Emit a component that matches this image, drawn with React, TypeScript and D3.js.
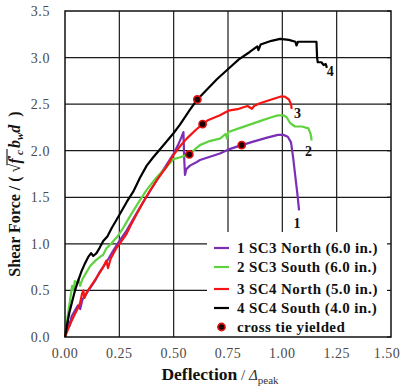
import React, { useEffect, useRef } from "react";
import * as d3 from "d3";

const W = 401;
const H = 390;

const xTicks = [0, 0.25, 0.5, 0.75, 1.0, 1.25, 1.5];
const yTicks = [0, 0.5, 1.0, 1.5, 2.0, 2.5, 3.0, 3.5];

// 1 SC3 North (purple)
const sc3North: [number, number][] = [
  [0, 0], [0.008, 0.08], [0.015, 0.17], [0.022, 0.12], [0.03, 0.22], [0.045, 0.28], [0.06, 0.34],
  [0.07, 0.3], [0.08, 0.4], [0.1, 0.47], [0.12, 0.54], [0.14, 0.61], [0.16, 0.7], [0.18, 0.77],
  [0.2, 0.84], [0.22, 0.92], [0.25, 1.03], [0.28, 1.13], [0.31, 1.25], [0.35, 1.41], [0.4, 1.6],
  [0.445, 1.77], [0.47, 1.86], [0.5, 1.97], [0.52, 2.06], [0.535, 2.14], [0.545, 2.2], [0.548, 1.95],
  [0.552, 1.74], [0.558, 1.8], [0.575, 1.84], [0.6, 1.87], [0.621, 1.9], [0.66, 1.93], [0.713, 1.97],
  [0.76, 2.02], [0.813, 2.06], [0.87, 2.1], [0.93, 2.14], [0.98, 2.17], [1.005, 2.17], [1.025, 2.15],
  [1.04, 2.09], [1.05, 1.92], [1.06, 1.72], [1.07, 1.52], [1.077, 1.36],
];

// 2 SC3 South (green)
const sc3South: [number, number][] = [
  [0, 0], [0.012, 0.22], [0.025, 0.42], [0.033, 0.55], [0.04, 0.5], [0.045, 0.6], [0.055, 0.58],
  [0.062, 0.62], [0.07, 0.55], [0.08, 0.62], [0.095, 0.68], [0.115, 0.76], [0.14, 0.82], [0.161, 0.86],
  [0.175, 0.88], [0.19, 0.95], [0.215, 1.01], [0.245, 1.09], [0.27, 1.18], [0.3, 1.3], [0.34, 1.45],
  [0.376, 1.58], [0.42, 1.71], [0.46, 1.81], [0.5, 1.91], [0.53, 1.93], [0.555, 1.95], [0.572, 1.96],
  [0.6, 2.02], [0.621, 2.06], [0.66, 2.1], [0.713, 2.13], [0.74, 2.18], [0.745, 2.13], [0.752, 2.2],
  [0.8, 2.24], [0.85, 2.28], [0.9, 2.32], [0.95, 2.36], [0.98, 2.38], [1.005, 2.38], [1.02, 2.36],
  [1.035, 2.3], [1.058, 2.26], [1.09, 2.26], [1.12, 2.24], [1.13, 2.18], [1.135, 2.11],
];

// 3 SC4 North (red)
const sc4North: [number, number][] = [
  [0, 0], [0.02, 0.12], [0.04, 0.22], [0.055, 0.29], [0.069, 0.36], [0.078, 0.46], [0.084, 0.5],
  [0.09, 0.42], [0.1, 0.48], [0.12, 0.55], [0.14, 0.62], [0.16, 0.69], [0.176, 0.75], [0.19, 0.82],
  [0.198, 0.74], [0.21, 0.84], [0.238, 0.96], [0.26, 1.03], [0.284, 1.11], [0.3, 1.19], [0.33, 1.32],
  [0.36, 1.45], [0.391, 1.57], [0.43, 1.71], [0.468, 1.83], [0.498, 1.95], [0.53, 2.05], [0.56, 2.13],
  [0.6, 2.22], [0.633, 2.285], [0.66, 2.33], [0.713, 2.38], [0.752, 2.43], [0.8, 2.45], [0.84, 2.48],
  [0.86, 2.45], [0.87, 2.48], [0.897, 2.51], [0.95, 2.55], [0.99, 2.58], [1.012, 2.58], [1.03, 2.55],
  [1.04, 2.5], [1.043, 2.45],
];

// 4 SC4 South (black)
const sc4South: [number, number][] = [
  [0, 0], [0.01, 0.14], [0.02, 0.26], [0.035, 0.4], [0.046, 0.5], [0.06, 0.6], [0.075, 0.7],
  [0.09, 0.78], [0.107, 0.86], [0.12, 0.9], [0.13, 0.87], [0.145, 0.9], [0.16, 0.96], [0.176, 1.03],
  [0.195, 1.08], [0.215, 1.17], [0.25, 1.31], [0.284, 1.45], [0.314, 1.56], [0.345, 1.71], [0.376, 1.84],
  [0.406, 1.93], [0.45, 2.05], [0.5, 2.19], [0.529, 2.28], [0.575, 2.44], [0.609, 2.55], [0.65, 2.65],
  [0.7, 2.77], [0.752, 2.88], [0.8, 2.98], [0.85, 3.06], [0.885, 3.12], [0.89, 3.08], [0.9, 3.14],
  [0.95, 3.18], [0.99, 3.2], [1.03, 3.19], [1.06, 3.17], [1.065, 3.13], [1.072, 3.17], [1.1, 3.17],
  [1.157, 3.17], [1.16, 3.0], [1.163, 2.95], [1.18, 2.95], [1.19, 2.92], [1.2, 2.93], [1.205, 2.89],
];

// cross tie yielded points (one per specimen)
const yieldPoints: [number, number][] = [[0.813, 2.06], [0.572, 1.96], [0.633, 2.285], [0.609, 2.55]];

// where the curve numbers sit (data units)
const curveLabels = ["1", "2", "3", "4"];
const curveLabelAt: [number, number][] = [[1.068, 1.22], [1.12, 1.99], [1.07, 2.4], [1.22, 2.85]];

const legendNames = [
  "1 SC3 North (6.0 in.)",
  "2 SC3 South (6.0 in.)",
  "3 SC4 North (5.0 in.)",
  "4 SC4 South (4.0 in.)",
];

const seriesList = [sc3North, sc3South, sc4North, sc4South];
const colors = ["#7a2fb5", "#5fd23f", "#f41414", "#000000"];

const FONT = "Liberation Serif, Times New Roman, DejaVu Serif, serif";

type Piece = { t: string; size: number; weight?: string; style?: string; dy?: number; fill?: string; key?: string };

// draws a run of text pieces side by side, centred on 0
function richText(parent: any, pieces: Piece[], transform: string) {
  const g = parent.append("g").attr("transform", transform);
  const inner = g.append("g");
  let cursor = 0;
  const spans: Record<string, [number, number]> = {};
  pieces.forEach((p) => {
    const t = inner
      .append("text")
      .attr("x", cursor)
      .attr("y", p.dy || 0)
      .style("font-family", FONT)
      .attr("font-size", p.size)
      .attr("font-weight", p.weight || "bold")
      .attr("font-style", p.style || "normal")
      .attr("fill", p.fill || "#111")
      .attr("xml:space", "preserve")
      .style("white-space", "pre")
      .text(p.t);
    const w = (t.node() as SVGTextElement).getComputedTextLength();
    if (p.key) spans[p.key] = [cursor, cursor + w];
    cursor += w;
  });
  inner.attr("transform", `translate(${-cursor / 2},0)`);
  return { inner, spans };
}

function Chart() {
  const ref = useRef<SVGSVGElement>(null);

  useEffect(() => {
    const svg = d3.select(ref.current);
    svg.selectAll("*").remove();

    const x = d3.scaleLinear().domain([0, 1.5]).range([65, 391]);
    const y = d3.scaleLinear().domain([0, 3.5]).range([337, 11]);

    svg.append("rect").attr("width", W).attr("height", H).attr("fill", "#fff");

    // grille
    const grid = svg.append("g").attr("stroke", "#1a1a1a").attr("stroke-width", 1.2);
    grid.selectAll(".gx").data(xTicks.slice(1, -1)).join("line")
      .attr("x1", (d) => x(d)).attr("x2", (d) => x(d))
      .attr("y1", y(3.5)).attr("y2", y(0));
    grid.selectAll(".gy").data(yTicks.slice(1, -1)).join("line")
      .attr("x1", x(0)).attr("x2", x(1.5))
      .attr("y1", (d) => y(d)).attr("y2", (d) => y(d));

    // courbes
    const line = d3.line<[number, number]>().x((d) => x(d[0])).y((d) => y(d[1]));
    seriesList.forEach((s, i) => {
      svg.append("path")
        .attr("d", line(s))
        .attr("fill", "none")
        .attr("stroke", colors[i])
        .attr("stroke-width", 2.2)
        .attr("stroke-linejoin", "round");
    });

    const dot = (sel: any) =>
      sel.attr("r", 3.6).attr("fill", "#1a0000").attr("stroke", "#e01010").attr("stroke-width", 1.6);

    svg.selectAll(".yield").data(yieldPoints).join("circle")
      .attr("cx", (d) => x(d[0])).attr("cy", (d) => y(d[1]))
      .call(dot);

    svg.selectAll(".clab").data(curveLabelAt).join("text")
      .attr("x", (d) => x(d[0])).attr("y", (d) => y(d[1]))
      .attr("text-anchor", "middle")
      .attr("dominant-baseline", "central")
      .style("font-family", FONT)
      .attr("font-size", 14)
      .attr("font-weight", "bold")
      .attr("fill", "#111")
      .text((d, i) => curveLabels[i]);

    // légende
    const lx = 207;
    const ly = 232;
    svg.append("rect").attr("x", lx).attr("y", ly).attr("width", x(1.5) - lx).attr("height", y(0) - ly).attr("fill", "#fff");
    const rows = [248, 267, 289, 308, 327];
    legendNames.forEach((name, i) => {
      svg.append("line")
        .attr("x1", 214).attr("x2", 229)
        .attr("y1", rows[i]).attr("y2", rows[i])
        .attr("stroke", colors[i]).attr("stroke-width", 2.2);
      svg.append("text")
        .attr("x", 237).attr("y", rows[i] + 5)
        .style("font-family", FONT).attr("font-size", 15).attr("font-weight", "bold")
        .attr("letter-spacing", 0.4)
        .attr("fill", "#111")
        .text(name);
    });
    svg.append("circle").attr("cx", 221.5).attr("cy", rows[4]).call(dot);
    svg.append("text")
      .attr("x", 237).attr("y", rows[4] + 5)
      .style("font-family", FONT).attr("font-size", 15).attr("font-weight", "bold")
      .attr("letter-spacing", 0.4)
      .attr("fill", "#111")
      .text("cross tie yielded");

    // cadre
    svg.append("rect")
      .attr("x", x(0)).attr("y", y(3.5))
      .attr("width", x(1.5) - x(0)).attr("height", y(0) - y(3.5))
      .attr("fill", "none").attr("stroke", "#111").attr("stroke-width", 1.5);
    svg.selectAll(".rt").data(yTicks).join("line")
      .attr("x1", x(1.5) - 4).attr("x2", x(1.5))
      .attr("y1", (d) => y(d)).attr("y2", (d) => y(d))
      .attr("stroke", "#111").attr("stroke-width", 1.2);

    // étiquettes des axes
    svg.selectAll(".xt").data(xTicks).join("text")
      .attr("x", (d) => Math.min(x(d), 387)).attr("y", 358)
      .attr("text-anchor", "middle")
      .style("font-family", FONT).attr("font-size", 14)
      .attr("letter-spacing", 0.5)
      .attr("fill", "#4a4a4a")
      .text((d) => d3.format(".2f")(d));
    svg.selectAll(".yt").data(yTicks).join("text")
      .attr("x", 50).attr("y", (d) => y(d) + 5)
      .attr("text-anchor", "end")
      .style("font-family", FONT).attr("font-size", 14)
      .attr("letter-spacing", 0.6)
      .attr("fill", "#4a4a4a")
      .text((d) => d3.format(".1f")(d));

    // titre x
    richText(svg, [
      { t: "Deflection", size: 17.5 },
      { t: " / ", size: 15, weight: "normal", fill: "#333" },
      { t: "Δ", size: 15, weight: "normal", style: "italic", fill: "#333" },
      { t: "peak", size: 11, weight: "normal", dy: 4, fill: "#333" },
    ], "translate(220,380)");

    // titre y
    const yt = richText(svg, [
      { t: "Shear Force / ( ", size: 16 },
      { t: "√", size: 16, weight: "normal", key: "rad" },
      { t: "f", size: 16, style: "italic", key: "f" },
      { t: "′", size: 12, dy: -4 },
      { t: "c", size: 11, style: "italic", dy: 3, key: "c" },
      { t: " ", size: 8 },
      { t: "b", size: 16, style: "italic" },
      { t: "w", size: 11, style: "italic", dy: 3 },
      { t: "d", size: 16, style: "italic" },
      { t: "  )", size: 16 },
    ], "translate(20,194) rotate(-90)");
    const r = yt.spans["rad"];
    const c = yt.spans["c"];
    yt.inner.append("line")
      .attr("x1", r[0] + (r[1] - r[0]) * 0.8).attr("x2", c[1] + 1)
      .attr("y1", -13).attr("y2", -13)
      .attr("stroke", "#111").attr("stroke-width", 1.1);
  }, []);

  return <svg ref={ref} width={W} height={H} style={{ position: "absolute", left: 0, top: 0, display: "block" }} />;
}

export default function App() {
  return <Chart />;
}
